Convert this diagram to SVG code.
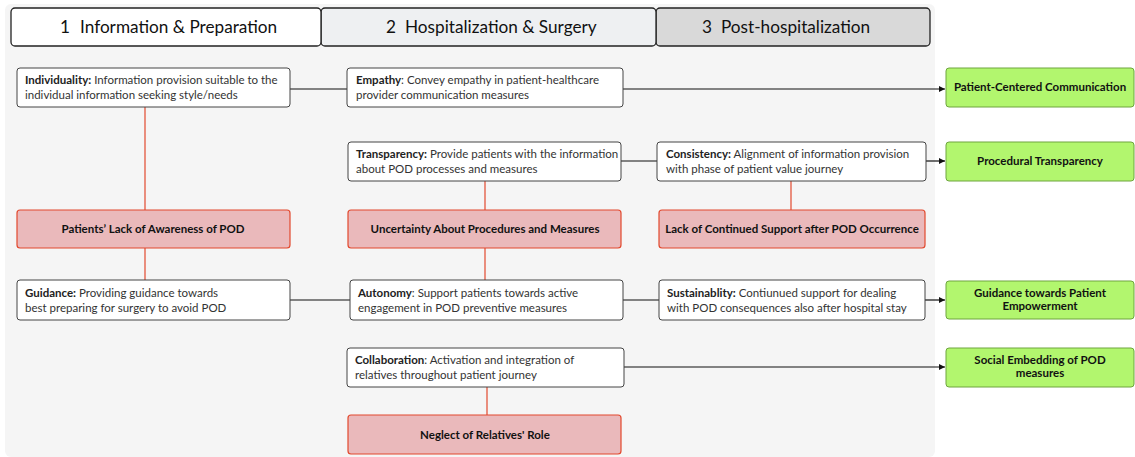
<svg xmlns="http://www.w3.org/2000/svg" width="1135" height="457" viewBox="0 0 1135 457">
<defs>
<marker id="arr" viewBox="0 0 10 10" refX="10" refY="5" markerWidth="6" markerHeight="6" orient="auto" markerUnits="userSpaceOnUse"><path d="M0,0 L10,5 L0,10 z" fill="#111"/></marker>
<style>
.hdr{stroke:#222;stroke-width:1.3}
.ht{font-family:Lato,"Open Sans",sans-serif;font-size:17.2px;fill:#111}
.wb{fill:#fff;stroke:#444;stroke-width:1}
.rb{fill:#eab9bb;stroke:#e2492e;stroke-width:1.2}
.gb{fill:#b2f66e;stroke:#6ea53f;stroke-width:1}
.t{font-family:Lato,"Open Sans",sans-serif;font-size:11.5px;fill:#333}
.t tspan.b{font-weight:bold;fill:#222}
.c{font-family:Lato,"Open Sans",sans-serif;font-size:11.5px;font-weight:bold;fill:#111;text-anchor:middle}
.bl{stroke:#111;stroke-width:1.2;fill:none}
.rl{stroke:#e2492e;stroke-width:1.2;fill:none}
</style>
</defs>
<rect x="5" y="4" width="930" height="453" rx="6" fill="#f5f5f5"/>
<g id="header">
<rect x="656" y="8" width="274" height="38" rx="4" fill="#d9d9d9" class="hdr"/>
<rect x="321" y="8" width="335" height="38" rx="4" fill="#eef0f2" class="hdr"/>
<rect x="11" y="8" width="310" height="38" rx="4" fill="#fff" class="hdr"/>
<text class="ht" x="60" y="33">1</text><text class="ht" x="80" y="33">Information &amp; Preparation</text>
<text class="ht" x="386" y="33">2</text><text class="ht" x="405" y="33">Hospitalization &amp; Surgery</text>
<text class="ht" x="702" y="33">3</text><text class="ht" x="721" y="33">Post-hospitalization</text>
</g>
<g id="connectors">
<line class="bl" x1="290" y1="89" x2="347" y2="89"/>
<line class="bl" x1="623" y1="89" x2="945" y2="89" marker-end="url(#arr)"/>
<line class="bl" x1="621" y1="161" x2="657" y2="161"/>
<line class="bl" x1="926" y1="161" x2="945" y2="161" marker-end="url(#arr)"/>
<line class="bl" x1="290" y1="300" x2="350" y2="300"/>
<line class="bl" x1="623" y1="300" x2="659" y2="300"/>
<line class="bl" x1="925" y1="300" x2="945" y2="300" marker-end="url(#arr)"/>
<line class="bl" x1="624" y1="367" x2="945" y2="367" marker-end="url(#arr)"/>
<line class="rl" x1="145" y1="107" x2="145" y2="210"/>
<line class="rl" x1="145" y1="248" x2="145" y2="280"/>
<line class="rl" x1="485" y1="181" x2="485" y2="210"/>
<line class="rl" x1="485" y1="248" x2="485" y2="280"/>
<line class="rl" x1="791" y1="181" x2="791" y2="210"/>
<line class="rl" x1="487" y1="387" x2="487" y2="415"/>
</g>
<g id="individuality"><rect class="wb" x="17" y="68" width="273" height="39" rx="3"/><text class="t" x="25" y="84"><tspan class="b">Individuality:</tspan> Information provision suitable to the</text><text class="t" x="25" y="99">individual information seeking style/needs</text></g>
<g id="empathy"><rect class="wb" x="347" y="68" width="276" height="39" rx="3"/><text class="t" x="356" y="84"><tspan class="b">Empathy</tspan>: Convey empathy in patient-healthcare</text><text class="t" x="356" y="99">provider communication measures</text></g>
<g id="pcc"><rect class="gb" x="946" y="68" width="188" height="39" rx="3"/><text class="c" x="1040" y="91">Patient-Centered Communication</text></g>
<g id="transparency"><rect class="wb" x="348" y="142" width="273" height="39" rx="3"/><text class="t" x="356" y="158"><tspan class="b">Transparency:</tspan> Provide patients with the information</text><text class="t" x="356" y="173">about POD processes and measures</text></g>
<g id="consistency"><rect class="wb" x="657" y="142" width="269" height="39" rx="3"/><text class="t" x="666" y="158"><tspan class="b">Consistency:</tspan> Alignment of information provision</text><text class="t" x="666" y="173">with phase of patient value journey</text></g>
<g id="proc"><rect class="gb" x="946" y="142" width="188" height="39" rx="3"/><text class="c" x="1040" y="165">Procedural Transparency</text></g>
<g id="awareness"><rect class="rb" x="17" y="210" width="273" height="38" rx="3"/><text class="c" x="153" y="233">Patients’ Lack of Awareness of POD</text></g>
<g id="uncertainty"><rect class="rb" x="348" y="210" width="273" height="38" rx="3"/><text class="c" x="485" y="233">Uncertainty About Procedures and Measures</text></g>
<g id="lacksupport"><rect class="rb" x="659" y="210" width="266" height="38" rx="3"/><text class="c" x="792" y="233">Lack of Continued Support after POD Occurrence</text></g>
<g id="guidance"><rect class="wb" x="17" y="280" width="273" height="40" rx="3"/><text class="t" x="25" y="297"><tspan class="b">Guidance:</tspan> Providing guidance towards</text><text class="t" x="25" y="312">best preparing for surgery to avoid POD</text></g>
<g id="autonomy"><rect class="wb" x="350" y="280" width="273" height="40" rx="3"/><text class="t" x="358" y="297"><tspan class="b">Autonomy</tspan>: Support patients towards active</text><text class="t" x="358" y="312">engagement in POD preventive measures</text></g>
<g id="sustainability"><rect class="wb" x="659" y="280" width="266" height="40" rx="3"/><text class="t" x="667" y="297"><tspan class="b">Sustainablity:</tspan> Contiunued support for dealing</text><text class="t" x="667" y="312">with POD consequences also after hospital stay</text></g>
<g id="empowerment"><rect class="gb" x="946" y="281" width="188" height="38" rx="3"/><text class="c" x="1040" y="297">Guidance towards Patient</text><text class="c" x="1040" y="310">Empowerment</text></g>
<g id="collaboration"><rect class="wb" x="347" y="348" width="277" height="39" rx="3"/><text class="t" x="355" y="364"><tspan class="b">Collaboration</tspan>: Activation and integration of</text><text class="t" x="355" y="379">relatives throughout patient journey</text></g>
<g id="social"><rect class="gb" x="946" y="348" width="188" height="39" rx="3"/><text class="c" x="1040" y="364">Social Embedding of POD</text><text class="c" x="1040" y="377">measures</text></g>
<g id="neglect"><rect class="rb" x="348" y="415" width="273" height="39" rx="3"/><text class="c" x="485" y="439">Neglect of Relatives' Role</text></g>
</svg>
